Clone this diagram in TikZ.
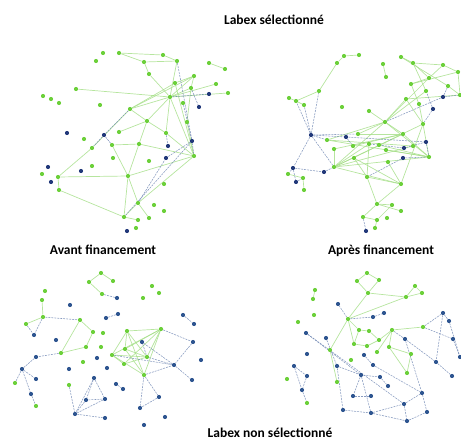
\documentclass[tikz,border=0pt]{standalone}
\usepackage{fontspec}
\setmainfont{Carlito}
\usetikzlibrary{backgrounds}
\definecolor{dotgreen}{HTML}{6CD03A}
\definecolor{dotblue}{HTML}{22397A}
\definecolor{dotblueb}{HTML}{2E5590}
\definecolor{edgegreen}{HTML}{A4DE86}
\definecolor{edgeblue}{HTML}{6A82B0}
\tikzset{
	gdot/.style = {circle, fill = dotgreen, inner sep = 0pt, minimum size = 4.2pt},
	bdot/.style = {circle, fill = dotblue, inner sep = 0pt, minimum size = 4.2pt},
	ldot/.style = {circle, fill = dotblueb, inner sep = 0pt, minimum size = 4.2pt},
	gline/.style = {draw = edgegreen, line width = 0.7pt, opacity = 0.8},
	bline/.style = {draw = edgeblue, line width = 0.55pt, dashed, dash pattern = on 2pt off 1pt, opacity = 0.8},
	title/.style = {font = \bfseries\fontsize{13.5}{16}\selectfont}
}

\begin{document}
\begin{tikzpicture}[x = 1pt, y = -1pt]
	\useasboundingbox (0,0) rectangle (461,441);
	\node[title] (selTitle) at (274,20) {Labex sélectionné};
	\node[title] (avantTitle) at (103,250) {Avant financement};
	\node[title] (apresTitle) at (381,251) {Après financement};
	\node[title] (nonTitle) at (270,433) {Labex non sélectionné};

	\foreach \n/\x/\y/\s in {1/103/53/gdot, 2/119/53/gdot, 3/96/61/gdot, 4/163/55/gdot, 5/177/61/gdot, 6/144/62/gdot, 7/149/74/gdot, 8/209/63/gdot, 9/225/69/gdot, 10/194/76/gdot, 11/175/83/gdot, 12/216/84/gdot, 13/191/88/gdot, 14/228/93/gdot, 15/76/89/gdot, 16/43/96/gdot, 17/51/99/gdot, 18/59/103/gdot, 19/100/105/gdot, 20/170/97/gdot, 21/183/103/gdot, 22/130/109/gdot, 23/187/122/gdot, 24/147/121/gdot, 25/119/132/gdot, 26/166/133/gdot, 27/84/139/gdot, 28/92/148/gdot, 29/112/145/gdot, 30/139/144/gdot, 31/113/158/gdot, 32/194/156/gdot, 33/149/161/gdot, 34/92/166/gdot, 35/128/176/gdot, 36/42/174/gdot, 37/58/177/gdot, 38/164/184/gdot, 39/59/190/gdot, 40/138/203/gdot, 41/154/205/gdot, 42/164/211/gdot, 43/124/217/gdot, 44/149/218/gdot, 45/138/220/gdot, 46/136/228/gdot, 47/209/94/bdot, 48/199/107/bdot, 49/67/133/bdot, 50/104/135/bdot, 51/192/141/bdot, 52/168/146/bdot, 53/166/158/bdot, 54/48/167/bdot, 55/81/171/bdot, 56/51/182/bdot, 57/127/231/bdot}
		\node[\s] (A\n) at (\x,\y) {};

	\foreach \n/\x/\y/\s in {1/344/56/gdot, 2/359/55/gdot, 3/337/63/gdot, 4/319/91/gdot, 5/289/98/gdot, 6/296/101/gdot, 7/304/105/gdot, 8/342/107/gdot, 9/369/111/gdot, 10/383/64/gdot, 11/386/77/gdot, 12/401/57/gdot, 13/413/63/gdot, 14/443/65/gdot, 15/458/72/gdot, 16/429/78/gdot, 17/411/84/gdot, 18/448/86/gdot, 19/426/91/gdot, 20/460/95/gdot, 21/406/99/gdot, 22/419/104/gdot, 23/385/122/gdot, 24/423/124/gdot, 25/358/134/gdot, 26/327/140/gdot, 27/334/149/gdot, 28/353/146/gdot, 29/369/144/gdot, 30/379/145/gdot, 31/403/134/gdot, 32/413/146/gdot, 33/386/150/gdot, 34/354/158/gdot, 35/429/157/gdot, 36/388/162/gdot, 37/334/167/gdot, 38/288/174/gdot, 39/303/178/gdot, 40/304/190/gdot, 41/367/177/gdot, 42/401/184/gdot, 43/377/204/gdot, 44/392/205/gdot, 45/401/211/gdot, 46/363/217/gdot, 47/377/220/gdot, 48/387/218/gdot, 49/375/228/gdot, 50/443/97/bdot, 51/433/109/bdot, 52/311/135/bdot, 53/346/137/bdot, 54/426/142/bdot, 55/404/148/bdot, 56/403/158/bdot, 57/293/168/bdot, 58/324/172/bdot, 59/296/182/bdot, 60/366/231/bdot}
		\node[\s] (B\n) at (\x,\y) {};

	\foreach \n/\x/\y/\s in {1/101/273/gdot, 2/89/282/gdot, 3/113/281/gdot, 4/152/286/gdot, 5/159/293/gdot, 6/143/298/gdot, 7/102/294/gdot, 8/45/291/gdot, 9/42/300/gdot, 10/43/317/gdot, 11/26/324/gdot, 12/80/320/gdot, 13/93/332/gdot, 14/103/333/gdot, 15/127/331/gdot, 16/161/329/gdot, 17/86/347/gdot, 18/101/347/gdot, 19/125/349/gdot, 20/112/355/gdot, 21/147/357/gdot, 22/61/353/gdot, 23/83/362/gdot, 24/124/364/gdot, 25/144/375/gdot, 26/15/383/gdot, 27/69/385/gdot, 28/36/406/gdot, 29/117/298/ldot, 30/70/305/ldot, 31/118/314/ldot, 32/106/318/ldot, 33/183/315/ldot, 34/194/324/ldot, 35/34/335/ldot, 36/56/340/ldot, 37/142/342/ldot, 38/193/342/ldot, 39/36/357/ldot, 40/97/358/ldot, 41/201/360/ldot, 42/174/365/ldot, 43/69/369/ldot, 44/107/368/ldot, 45/22/369/ldot, 46/36/379/ldot, 47/192/380/ldot, 48/116/384/ldot, 49/123/389/ldot, 50/94/378/ldot, 51/31/394/ldot, 52/159/397/ldot, 53/86/400/ldot, 54/105/399/ldot, 55/140/408/ldot, 56/75/414/ldot, 57/105/418/ldot, 58/165/417/ldot, 59/144/425/ldot}
		\node[\s] (C\n) at (\x,\y) {};

	\foreach \n/\x/\y/\s in {1/367/273/gdot, 2/357/281/gdot, 3/379/280/gdot, 4/368/293/gdot, 5/415/286/gdot, 6/422/293/gdot, 7/406/297/gdot, 8/315/290/gdot, 9/313/299/gdot, 10/314/315/gdot, 11/298/322/gdot, 12/348/319/gdot, 13/359/330/gdot, 14/369/331/gdot, 15/392/330/gdot, 16/423/327/gdot, 17/379/340/gdot, 18/354/344/gdot, 19/367/346/gdot, 20/389/347/gdot, 21/330/350/gdot, 22/377/352/gdot, 23/411/354/gdot, 24/351/360/gdot, 25/407/373/gdot, 26/287/379/gdot, 27/337/382/gdot, 28/307/403/gdot, 29/338/304/ldot, 30/384/313/ldot, 31/373/317/ldot, 32/443/313/ldot, 33/449/321/ldot, 34/306/333/ldot, 35/326/338/ldot, 36/405/339/ldot, 37/453/339/ldot, 38/364/355/ldot, 39/307/354/ldot, 40/460/357/ldot, 41/436/362/ldot, 42/373/365/ldot, 43/294/366/ldot, 44/337/366/ldot, 45/307/376/ldot, 46/361/375/ldot, 47/380/377/ldot, 48/388/386/ldot, 49/452/376/ldot, 50/302/390/ldot, 51/353/396/ldot, 52/371/396/ldot, 53/422/393/ldot, 54/404/404/ldot, 55/343/410/ldot, 56/371/413/ldot, 57/427/412/ldot, 58/407/421/ldot}
		\node[\s] (D\n) at (\x,\y) {};

	\begin{pgfonlayer}{background}
		\foreach \a/\b in {2/4, 2/6, 6/5, 4/5, 6/7, 7/20, 5/20, 15/20, 20/14, 20/10, 11/22, 22/20, 28/37, 37/39, 39/43, 37/35, 35/30, 30/24, 24/22, 35/43, 43/40, 35/40, 40/44, 35/32, 20/32, 20/26, 24/26, 25/24, 29/30, 30/32, 40/32, 13/23, 13/10, 11/10, 22/10, 29/35, 20/13, 20/12, 26/32, 24/20, 43/45, 22/28, 8/9, 11/32, 23/32}
			\draw[gline] (A\a) -- (A\b);
		\foreach \a/\b in {5/51, 32/51, 51/53, 26/52, 43/51, 20/47, 21/51, 22/50, 50/28, 29/50, 40/53, 13/48}
			\draw[bline] (A\a) -- (A\b);

		\foreach \a/\b in {1/2, 1/3, 3/4, 4/6, 5/6, 6/7, 10/11, 12/13, 13/14, 14/15, 13/16, 16/14, 12/18, 13/19, 16/17, 17/15, 15/20, 18/20, 21/20, 23/21, 9/23, 37/23, 37/24, 37/35, 37/42, 37/31, 26/32, 27/31, 28/31, 30/35, 33/35, 34/41, 41/42, 42/24, 42/43, 43/46, 46/47, 47/44, 44/43, 43/45, 41/43, 36/42, 29/41, 23/31, 31/35, 24/35, 22/24, 21/24, 17/22, 23/19, 23/16, 25/31, 26/35, 34/42, 37/29, 38/39, 39/40, 27/37, 25/23, 37/32, 23/35, 26/23, 47/49}
			\draw[gline] (B\a) -- (B\b);
		\foreach \a/\b in {52/4, 52/6, 52/7, 52/37, 52/26, 52/25, 52/57, 52/53, 57/38, 57/59, 59/39, 58/37, 53/54, 55/54, 56/35, 54/35, 55/29, 50/20, 50/18, 51/19, 51/24, 46/60, 50/23, 53/28, 57/58, 56/41}
			\draw[bline] (B\a) -- (B\b);

		\foreach \a/\b in {1/2, 2/7, 1/3, 9/10, 10/11, 12/22, 22/17, 15/16, 15/20, 15/19, 15/25, 15/21, 16/20, 16/25, 16/19, 16/21, 20/25, 19/25, 20/21, 19/21, 24/16, 24/21, 20/24, 17/13, 12/13}
			\draw[gline] (C\a) -- (C\b);
		\foreach \a/\b in {7/29, 10/35, 11/35, 10/12, 22/39, 39/45, 45/26, 45/46, 45/51, 51/28, 32/31, 33/34, 16/38, 37/42, 20/42, 21/42, 42/47, 25/42, 25/52, 25/55, 52/55, 50/53, 50/56, 50/54, 53/54, 56/57, 56/54, 53/56, 27/56, 48/49, 37/21, 38/42}
			\draw[bline] (C\a) -- (C\b);

		\foreach \a/\b in {1/2, 1/3, 2/4, 3/4, 4/7, 7/5, 5/6, 7/6, 4/12, 12/7, 12/13, 12/21, 13/14, 13/18, 14/17, 17/15, 15/20, 15/22, 20/23, 17/19, 18/19, 21/27, 20/25, 23/25, 12/18, 16/15, 8/9}
			\draw[gline] (D\a) -- (D\b);
		\foreach \a/\b in {12/29, 12/31, 31/30, 36/41, 16/32, 32/33, 33/40, 32/41, 37/40, 41/49, 16/37, 35/44, 34/46, 44/46, 46/47, 46/51, 51/52, 46/56, 55/56, 56/54, 54/53, 53/57, 54/58, 56/58, 58/57, 42/53, 43/45, 45/50, 43/50, 50/28, 44/55, 38/42, 47/48, 36/53, 34/54, 15/36}
			\draw[bline] (D\a) -- (D\b);
	\end{pgfonlayer}
\end{tikzpicture}
\end{document}
